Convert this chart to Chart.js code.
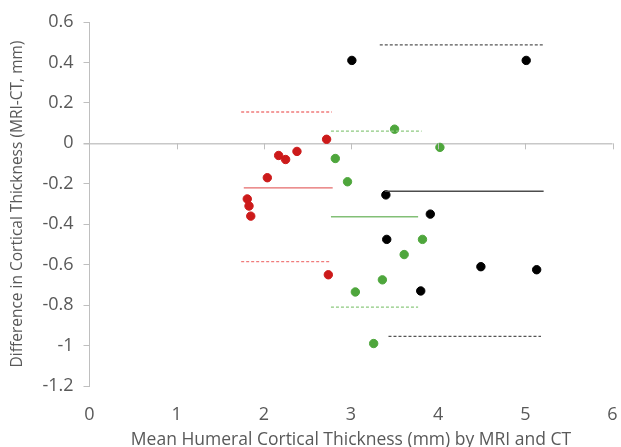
<!DOCTYPE html>
<html>
<head>
<meta charset="utf-8">
<script src="https://cdn.jsdelivr.net/npm/chart.js@4"></script>
<style>
  html, body { margin: 0; padding: 0; background: #fff; }
  #wrap { width: 621px; height: 447px; }
</style>
</head>
<body>
<div id="wrap"><canvas id="chart"></canvas></div>
<script>
// point data (mean thickness, MRI-CT difference)
const redX = [2.72, 2.17, 2.25, 2.38, 2.04, 1.81, 1.83, 1.85, 2.74];
const redY = [0.02, -0.06, -0.08, -0.04, -0.17, -0.275, -0.31, -0.36, -0.65];
const greenX = [3.50, 4.02, 2.82, 2.96, 3.82, 3.61, 3.36, 3.05, 3.26];
const greenY = [0.07, -0.02, -0.075, -0.19, -0.475, -0.55, -0.675, -0.735, -0.99];
const blackX = [3.01, 5.01, 3.40, 3.91, 3.41, 4.49, 5.13, 3.80];
const blackY = [0.41, 0.41, -0.255, -0.35, -0.475, -0.61, -0.625, -0.73];

// bias and limits of agreement: [mean, upper, lower] with the x span of each line
const redLimits = [-0.22, 0.155, -0.585];
const redSpans = [[1.77, 2.79], [1.74, 2.78], [1.74, 2.76]];
const greenLimits = [-0.363, 0.06, -0.81];
const greenSpans = [[2.77, 3.77], [2.77, 3.81], [2.77, 3.77]];
const blackLimits = [-0.237, 0.487, -0.955];
const blackSpans = [[3.39, 5.21], [3.33, 5.21], [3.43, 5.18]];

const xTicks = [0, 1, 2, 3, 4, 5, 6];
const yTicks = [-1.2, -1, -0.8, -0.6, -0.4, -0.2, 0, 0.2, 0.4, 0.6];

const axisGray = "#bfbfbf";
const textGray = "#595959";

function points(xs, ys) {
  return xs.map((x, i) => ({ x: x, y: ys[i] }));
}

function dots(xs, ys, color) {
  return {
    type: "scatter",
    data: points(xs, ys),
    backgroundColor: color,
    borderColor: color,
    pointRadius: 4.2,
    pointHoverRadius: 4.2
  };
}

function limitLines(limits, spans, solidColor, dashColor) {
  return limits.map((y, i) => ({
    type: "line",
    data: spans[i].map(x => ({ x: x, y: y })),
    borderColor: i === 0 ? solidColor : dashColor,
    borderWidth: 1.3,
    borderDash: i === 0 ? [] : [3, 2],
    pointRadius: 0,
    fill: false
  }));
}

// little tick marks hanging off the zero line, like Excel's crossing axis
const zeroTicks = {
  id: "zeroTicks",
  afterDatasetsDraw(chart) {
    const { ctx, scales } = chart;
    const y0 = scales.y.getPixelForValue(0);
    ctx.save();
    ctx.strokeStyle = axisGray;
    ctx.lineWidth = 1;
    xTicks.forEach(v => {
      if (v === 0) return;
      const px = Math.round(scales.x.getPixelForValue(v)) + 0.5;
      ctx.beginPath();
      ctx.moveTo(px, y0);
      ctx.lineTo(px, y0 + 6);
      ctx.stroke();
    });
    ctx.restore();
  }
};

new Chart(document.getElementById("chart"), {
  type: "scatter",
  data: {
    datasets: [
      ...limitLines(redLimits, redSpans, "#e56a6a", "#f07c7c"),
      ...limitLines(greenLimits, greenSpans, "#82bf76", "#8cc97f"),
      ...limitLines(blackLimits, blackSpans, "#4d4d4d", "#555555"),
      dots(redX, redY, "#cc1a1a"),
      dots(greenX, greenY, "#4ea63c"),
      dots(blackX, blackY, "#000000")
    ]
  },
  options: {
    responsive: true,
    maintainAspectRatio: false,
    animation: false,
    layout: { padding: { top: 22, right: 8.5, left: 0, bottom: 0 } },
    plugins: {
      legend: { display: false },
      tooltip: { enabled: false }
    },
    scales: {
      x: {
        type: "linear",
        min: 0,
        max: 6,
        afterBuildTicks: s => { s.ticks = xTicks.map(v => ({ value: v })); },
        afterFit: s => { s.height = 61; },
        // tick marks hidden, but their length still pushes the labels down
        grid: { display: false, drawTicks: true, tickLength: 18 },
        border: { display: false },
        ticks: {
          padding: 0,
          color: textGray,
          font: { family: "Open Sans", size: 18 }
        },
        title: {
          display: true,
          text: "Mean Humeral Cortical Thickness (mm) by MRI and CT",
          color: textGray,
          padding: { top: 0, bottom: -4 },
          font: { family: "Open Sans", size: 17.5 }
        }
      },
      y: {
        type: "linear",
        min: -1.2,
        max: 0.6,
        afterBuildTicks: s => { s.ticks = yTicks.map(v => ({ value: v })); },
        afterFit: s => { s.width = 89.5; },
        grid: {
          color: c => (c.tick && Math.abs(c.tick.value) < 1e-9 ? "#c8c8c8" : "rgba(0,0,0,0)"),
          lineWidth: c => (c.tick && Math.abs(c.tick.value) < 1e-9 ? 1.5 : 1),
          tickColor: axisGray,
          tickLength: 6
        },
        border: { display: true, color: axisGray, width: 1 },
        ticks: {
          padding: 10,
          color: textGray,
          font: { family: "Open Sans", size: 18 },
          callback: v => String(Number(v.toFixed(1)))
        },
        title: {
          display: true,
          text: "Difference in Cortical Thickness (MRI-CT, mm)",
          color: textGray,
          padding: { top: 8, bottom: 0 },
          font: { family: "Open Sans", size: 15.5 }
        }
      }
    }
  },
  plugins: [zeroTicks]
});
</script>
</body>
</html>
